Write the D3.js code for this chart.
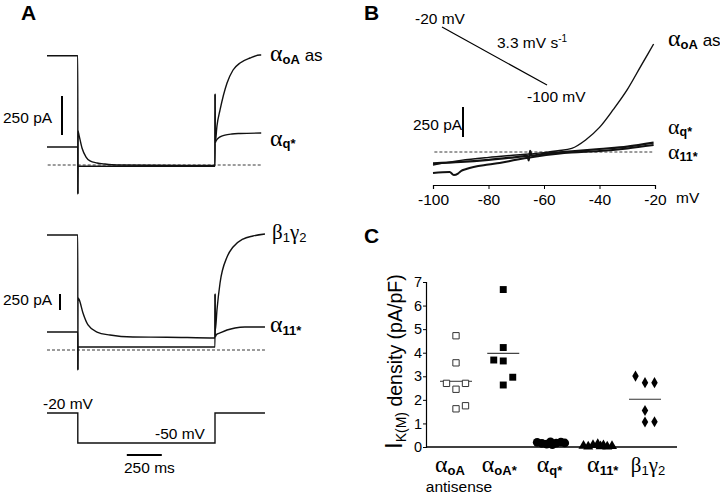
<!DOCTYPE html>
<html><head><meta charset="utf-8">
<script src="https://cdn.jsdelivr.net/npm/d3@7"></script>
<style>
body{margin:0;background:#fff;}
svg{display:block;}
text{font-family:"Liberation Sans",Arial,sans-serif;fill:#000;}
</style></head>
<body><svg id="c" width="720" height="494"></svg>
<script>
// ---------------- DATA ----------------
// Panel A (top): time (ms) / current (pA)
const traceAoaAs = [[0,700],[220,700],[220.5,-186],[221.5,-8],[1200,-8],[1200.5,455],[1201.5,141],[1214,250],[1236,353],[1286,526],[1329,609],[1379,654],[1450,686],[1521,705],[1530,705]];
const traceAq = [[0,115],[220,115],[220.5,-186],[221.5,218],[229,190],[250,109],[279,51],[307,26],[357,13],[414,6],[500,0],[1200,-3],[1200.5,455],[1201.5,141],[1207,154],[1236,180],[1271,192],[1321,199],[1379,202],[1530,205]];
// Panel A (bottom)
const traceB1g2 = [[0,1797],[220,1797],[220.5,-312],[221.5,812],[229,790],[257,578],[293,391],[357,281],[450,234],[614,203],[857,200],[1200,188],[1200.5,875],[1202,300],[1214,625],[1236,1047],[1286,1453],[1329,1609],[1400,1734],[1471,1781],[1557,1812]];
const traceA11 = [[0,281],[220,281],[220.5,-312],[221.5,47],[1200,47],[1200.5,875],[1201.5,203],[1210,240],[1236,266],[1286,312],[1343,344],[1414,359],[1557,359]];
// Voltage protocol (ms, mV)
const protocol = [[0,-20],[220,-20],[220,-50],[1200,-50],[1200,-20],[1557,-20]];
// Panel B: ramp I-V (mV, pA)
const ivAoaAs = [[-100,-108],[-90,-70],[-80,-45],[-70,-25],[-60,-5],[-55,10],[-50,30],[-45,100],[-40,205],[-35,355],[-30,520],[-25,720],[-20.5,900]];
const ivAq = [[-100,-95],[-90,-83],[-80,-65],[-70,-42],[-66,-32],[-65.5,-70],[-65,10],[-64.5,-28],[-60,-15],[-50,5],[-40,25],[-30,45],[-20.5,78]];
const ivA11 = [[-100,-175],[-94,-167],[-92.5,-192],[-91,-180],[-90,-160],[-88,-142],[-80,-105],[-76,-92],[-70,-65],[-64,-42],[-55,-15],[-50,-5],[-40,8],[-30,30],[-20.5,58]];
const ivTicks = [-100,-80,-60,-40,-20];
// Panel C: I_K(M) density (pA/pF)
const groups = ["aoaAS","aoa","aq","a11","b1g2"];
const valsAoaAS = [4.72,3.57,2.70,2.70,2.45,1.62,1.75];
const slotsAoaAS = [0,0,-1,1,0,0,1];
const valsAoa = [6.68,4.22,3.69,3.65,2.96,2.63];
const slotsAoa = [0,0,-1,0,1,0];
const valsAq = [0.20,0.15,0.12,0.22,0.10,0.16,0.21,0.17];
const slotsAq = [-1.4,-0.9,-0.4,0,0.2,0.6,1.1,1.5];
const valsA11 = [0.05,0.02,0.08,0.12,0.03,0.07,0.02,0.04];
const slotsA11 = [-1.5,-1,-0.5,0,0.3,0.6,1,1.5];
const valsB1g2 = [3.01,2.73,2.73,1.55,1.06,1.07];
const slotsB1g2 = [-1,0,1,0,0,1];
const yTicksC = [0,1,2,3,4,5,6,7];

// ---------------- DRAW ----------------
const svg = d3.select("#c");
const GREEK = '"Liberation Serif","Times New Roman",serif';
const SANS = '"Liberation Sans",Arial,sans-serif';

function rich(g, x, y, parts, anchor){
  const t = g.append("text").attr("x",x).attr("y",y).attr("text-anchor",anchor||"start");
  parts.forEach(p=>{
    t.append("tspan").text(p.t)
     .attr("font-family", p.g?GREEK:SANS)
     .attr("font-size", p.s)
     .attr("font-weight", p.w||"normal")
     .attr("dy", p.dy||0);
  });
  return t;
}
function letter(x,y,s){ svg.append("text").attr("x",x).attr("y",y).attr("font-size",21).attr("font-weight","bold").text(s); }

letter(21,20,"A"); letter(364,20,"B"); letter(364,243,"C");

// ---- Panel A ----
const xT = d3.scaleLinear().domain([0,250]).range([47,82]);
const yTop = d3.scaleLinear().domain([0,250]).range([165,126]);
const yBot = d3.scaleLinear().domain([0,250]).range([350,334]);
const yV = d3.scaleLinear().domain([-50,-20]).range([443,413]);

const smooth = (ys)=> d3.line().x(d=>xT(d[0])).y(d=>ys(d[1])).curve(d3.curveMonotoneX);
function trace(data, ys, w){
  svg.append("path").attr("d", smooth(ys)(data)).attr("fill","none").attr("stroke","#111").attr("stroke-width",w||1.4).attr("stroke-linejoin","round");
}
// zero lines
svg.append("line").attr("x1",xT(5)).attr("x2",xT(1530)).attr("y1",yTop(0)).attr("y2",yTop(0)).attr("stroke","#222").attr("stroke-dasharray","3,2").attr("stroke-width",0.9);
svg.append("line").attr("x1",xT(0)).attr("x2",xT(1557)).attr("y1",yBot(0)).attr("y2",yBot(0)).attr("stroke","#222").attr("stroke-dasharray","3,2").attr("stroke-width",0.9);
trace(traceAoaAs, yTop); trace(traceAq, yTop);
trace(traceB1g2, yBot); trace(traceA11, yBot);
svg.append("path").attr("d", d3.line().x(d=>xT(d[0])).y(d=>yV(d[1]))(protocol)).attr("fill","none").attr("stroke","#111").attr("stroke-width",1.4);

// scale bars A
svg.append("line").attr("x1",62).attr("x2",62).attr("y1",yTop(250)-30).attr("y2",yTop(0)-30).attr("stroke","#000").attr("stroke-width",2);
svg.append("text").attr("x",3).attr("y",123).attr("font-size",15.5).text("250 pA");
svg.append("line").attr("x1",60).attr("x2",60).attr("y1",yBot(250)-40).attr("y2",yBot(0)-40).attr("stroke","#000").attr("stroke-width",2);
svg.append("text").attr("x",3).attr("y",305).attr("font-size",15.5).text("250 pA");
svg.append("line").attr("x1",xT(570)).attr("x2",xT(820)).attr("y1",455).attr("y2",455).attr("stroke","#000").attr("stroke-width",2);
svg.append("text").attr("x",124).attr("y",473).attr("font-size",15.5).text("250 ms");
svg.append("text").attr("x",43).attr("y",409).attr("font-size",15.5).text("-20 mV");
svg.append("text").attr("x",155).attr("y",439).attr("font-size",15.5).text("-50 mV");

// trace labels A
rich(svg,270,61,[{t:"α",g:1,s:24},{t:"oA",s:13,w:"bold",dy:3},{t:" as",s:17,dy:-3}]);
rich(svg,270,146,[{t:"α",g:1,s:24},{t:"q*",s:13,w:"bold",dy:2}]);
rich(svg,272,239,[{t:"β",g:1,s:21},{t:"1",s:13,dy:3},{t:"γ",g:1,s:21,dy:-3},{t:"2",s:13,dy:3}]);
rich(svg,270,332,[{t:"α",g:1,s:24},{t:"11*",s:13,w:"bold",dy:3}]);

// ---- Panel B ----
const xB = d3.scaleLinear().domain([-100,-20]).range([433,655]);
const yB = d3.scaleLinear().domain([0,250]).range([152,122]);
const lineB = d3.line().x(d=>xB(d[0])).y(d=>yB(d[1])).curve(d3.curveMonotoneX);
svg.append("line").attr("x1",xB(-99.5)).attr("x2",xB(-21)).attr("y1",yB(0)).attr("y2",yB(0)).attr("stroke","#222").attr("stroke-dasharray","3,2").attr("stroke-width",0.9);
svg.append("path").attr("d",lineB(ivA11)).attr("fill","none").attr("stroke","#111").attr("stroke-width",2);
svg.append("path").attr("d",lineB(ivAq)).attr("fill","none").attr("stroke","#111").attr("stroke-width",2.2);
svg.append("path").attr("d",lineB(ivAoaAs)).attr("fill","none").attr("stroke","#111").attr("stroke-width",1.4);
const axB = svg.append("g").attr("transform","translate(0,185)")
  .call(d3.axisBottom(xB).tickValues(ivTicks).tickSize(4).tickFormat(d=>d));
axB.select(".domain").attr("stroke-width",1.2);
axB.selectAll("text").attr("font-size",15.5).attr("font-family",SANS).attr("dy","0.85em");
svg.append("text").attr("x",676).attr("y",203).attr("font-size",15.5).text("mV");
// B annotations
svg.append("line").attr("x1",463).attr("x2",463).attr("y1",yB(250)-15).attr("y2",yB(0)-15).attr("stroke","#000").attr("stroke-width",2);
svg.append("text").attr("x",413).attr("y",130).attr("font-size",15.5).text("250 pA");
svg.append("line").attr("x1",442).attr("y1",27).attr("x2",547).attr("y2",85).attr("stroke","#000").attr("stroke-width",1.2);
svg.append("text").attr("x",415).attr("y",24).attr("font-size",15.5).text("-20 mV");
svg.append("text").attr("x",527).attr("y",102).attr("font-size",15.5).text("-100 mV");
rich(svg,497,48,[{t:"3.3 mV s",s:15.5},{t:"-1",s:10,dy:-6}]);
rich(svg,668,46,[{t:"α",g:1,s:24},{t:"oA",s:13,w:"bold",dy:3},{t:" as",s:17,dy:-3}]);
rich(svg,668,134,[{t:"α",g:1,s:22},{t:"q*",s:12.5,w:"bold",dy:2}]);
rich(svg,668,159,[{t:"α",g:1,s:22},{t:"11*",s:12.5,w:"bold",dy:2}]);

// ---- Panel C ----
const yC = d3.scaleLinear().domain([0,7]).range([447,282]);
const xC = d3.scalePoint().domain(groups).range([456,645]);
const slotW = 9.5;
const axC = svg.append("g").attr("transform","translate(426,0)")
  .call(d3.axisLeft(yC).tickValues(yTicksC).tickSize(3).tickFormat(d3.format("d")));
axC.select(".domain").attr("stroke-width",1.2);
axC.selectAll("text").attr("font-size",14.5).attr("font-family",SANS).attr("dx","2px");
svg.append("line").attr("x1",426).attr("x2",677).attr("y1",yC(0)).attr("y2",yC(0)).attr("stroke","#000").attr("stroke-width",1.3);

const sets = [
  {g:"aoaAS", v:valsAoaAS, s:slotsAoaAS, sym:d3.symbolSquare, fill:"#fff", size:40},
  {g:"aoa", v:valsAoa, s:slotsAoa, sym:d3.symbolSquare, fill:"#000", size:48},
  {g:"aq", v:valsAq, s:slotsAq, sym:d3.symbolCircle, fill:"#000", size:60},
  {g:"a11", v:valsA11, s:slotsA11, sym:d3.symbolTriangle, fill:"#000", size:44},
  {g:"b1g2", v:valsB1g2, s:slotsB1g2, sym:d3.symbolDiamond, fill:"#000", size:36},
];
sets.forEach(st=>{
  const cx = xC(st.g);
  const m = d3.mean(st.v);
  svg.append("line").attr("x1",cx-16).attr("x2",cx+16).attr("y1",yC(m)).attr("y2",yC(m)).attr("stroke","#444").attr("stroke-width",1.1);
  svg.selectAll(null).data(st.v.map((v,i)=>({v,s:st.s[i]}))).enter().append("path")
    .attr("d", d3.symbol().type(st.sym).size(st.size))
    .attr("transform", d=>`translate(${cx+d.s*slotW},${yC(d.v)})`)
    .attr("fill", st.fill).attr("stroke", st.fill==="#fff"?"#333":"none").attr("stroke-width",1);
});
// category labels
const labY = 472;
rich(svg,xC("aoaAS")-6,labY,[{t:"α",g:1,s:24},{t:"oA",s:13,w:"bold",dy:3}],"middle");
svg.append("text").attr("x",xC("aoaAS")+3).attr("y",492).attr("text-anchor","middle").attr("font-size",15.5).text("antisense");
rich(svg,xC("aoa")-4,labY,[{t:"α",g:1,s:24},{t:"oA*",s:13,w:"bold",dy:3}],"middle");
rich(svg,xC("aq")-1,labY,[{t:"α",g:1,s:24},{t:"q*",s:13,w:"bold",dy:3}],"middle");
rich(svg,xC("a11")+5,labY,[{t:"α",g:1,s:24},{t:"11*",s:13,w:"bold",dy:3}],"middle");
rich(svg,xC("b1g2")+3,labY,[{t:"β",g:1,s:21},{t:"1",s:13,dy:3},{t:"γ",g:1,s:21,dy:-3},{t:"2",s:13,dy:3}],"middle");
// y label
const yl = svg.append("text").attr("transform","translate(402,449) rotate(-90)");
yl.append("tspan").text("I").attr("font-size",24);
yl.append("tspan").text("K(M)").attr("font-size",14).attr("dy",4);
yl.append("tspan").text(" density (pA/pF)").attr("font-size",19.5).attr("dy",-4);
</script></body></html>
